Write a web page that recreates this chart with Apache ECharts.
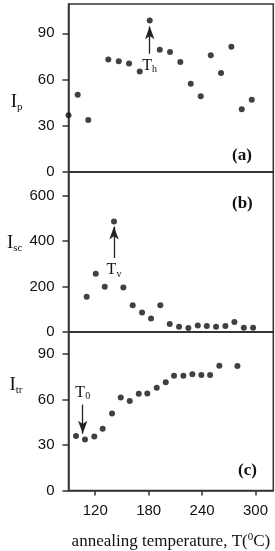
<!DOCTYPE html>
<html>
<head>
<meta charset="utf-8">
<script src="https://cdn.jsdelivr.net/npm/echarts@6/dist/echarts.min.js"></script>
<style>
  html, body { margin: 0; padding: 0; background: #fff; }
  #box { width: 275px; height: 551px; }
</style>
</head>
<body>
<div id="box"></div>
<script>
// annealing temperature (x) and intensities
const tempA = [90, 100.3, 112.2, 134.7, 146.4, 158, 170, 181.2, 192.5, 204, 215.6, 227.3, 238.5, 249.8, 261.3, 272.9, 284.6, 295.8];
const ipA = [36.8, 50.2, 33.8, 73, 71.9, 70.4, 65.2, 98.3, 79.3, 77.8, 71.3, 57.2, 49.2, 75.8, 64.3, 81.2, 40.7, 46.8];

const tempB = [110.4, 120.6, 130.7, 141.1, 151.6, 162.1, 172.6, 182.7, 193.1, 203.7, 214.2, 224.6, 235.2, 245.3, 255.7, 266.2, 276.3, 286.9, 297.3];
const iscB = [155, 256, 199, 486, 196, 117, 86, 59, 117, 35, 23, 18, 29, 26, 23, 26, 44, 19, 19];

const tempC = [98.4, 108.5, 119, 128.4, 138.9, 148.7, 158.8, 168.9, 178.5, 189.1, 199.2, 208.5, 219, 229.1, 239.2, 249, 259.4, 279.7];
const itrC = [36, 33.6, 35.6, 40.8, 50.8, 61.4, 59, 63.9, 64, 67.8, 71.5, 75.8, 75.8, 76.7, 76.3, 76.3, 82.4, 82.2];

const xTicks = [120, 180, 240, 300];
const ticksA = [0, 30, 60, 90];
const ticksB = [0, 200, 400, 600];
const ticksC = [0, 30, 60, 90];

// arrows: [x, from, to]
const arrowA = [181.2, 76.7, 94.5];
const arrowB = [141.1, 325, 463];
const arrowC = [106, 56.7, 37.5];

const frame = "#333";
const sans = "Liberation Sans";
const serif = "Liberation Serif";

let myChart = echarts.init(document.getElementById("box"));

function pair(t, v) {
  return t.map((x, i) => [x, v[i]]);
}

function yAx(idx, max, ticks, nameMain, nameSub, pad) {
  return {
    type: "value",
    gridIndex: idx,
    min: 0,
    max: max,
    splitLine: { show: false },
    axisLine: { show: true, lineStyle: { color: frame, width: 1.5 } },
    axisTick: { show: true, customValues: ticks, length: 6, lineStyle: { color: frame, width: 1.5 } },
    axisLabel: { customValues: ticks, margin: 14, color: "#111", fontFamily: sans, fontSize: 15 },
    name: "{m|" + nameMain + "}{s|" + nameSub + "}",
    nameLocation: "middle",
    nameRotate: 0,
    nameGap: 46,
    nameTextStyle: {
      padding: pad,
      rich: {
        m: { fontFamily: serif, fontSize: 19, color: "#111" },
        s: { fontFamily: serif, fontSize: 11, color: "#111", padding: [10, 0, 0, 0] },
      },
    },
  };
}

function xAx(idx, bottom) {
  let ax = {
    type: "value",
    gridIndex: idx,
    min: 90,
    max: 320,
    splitLine: { show: false },
    axisLine: { show: true, onZero: false, lineStyle: { color: frame, width: 1.5 } },
    axisTick: { show: false },
    axisLabel: { show: false },
  };
  if (bottom) {
    ax.axisTick = { show: true, customValues: xTicks, length: 5, lineStyle: { color: frame, width: 1.5 } };
    ax.axisLabel = { show: true, customValues: xTicks, margin: 13, color: "#111", fontFamily: sans, fontSize: 15 };
    ax.name = "{t|annealing temperature, T(}{sup|0}{t|C)}";
    ax.nameLocation = "middle";
    ax.nameGap = 41;
    ax.nameTextStyle = {
      rich: {
        t: { fontFamily: serif, fontSize: 17, color: "#111" },
        sup: { fontFamily: serif, fontSize: 11, color: "#111", padding: [0, 0, 9, 0] },
      },
    };
  }
  return ax;
}

function arrowLine(a, main, sub) {
  return {
    silent: true,
    symbol: "none",
    lineStyle: { color: "#222", width: 1.3, type: "solid" },
    label: {
      show: true,
      position: "start",
      distance: 3,
      formatter: "{m|" + main + "}{s|" + sub + "}",
      rich: {
        m: { fontFamily: serif, fontSize: 16, color: "#111" },
        s: { fontFamily: serif, fontSize: 10, color: "#111", padding: [8, 0, 0, 0] },
      },
    },
    data: [[
      { coord: [a[0], a[1]], symbol: "none" },
      { coord: [a[0], a[2]], symbol: "arrow", symbolSize: [7, 13] },
    ]],
  };
}

function dots(idx, data, ml) {
  return {
    type: "scatter",
    xAxisIndex: idx,
    yAxisIndex: idx,
    symbolSize: 6,
    itemStyle: { color: "#111" },
    data: data,
    markLine: ml,
  };
}

let gridBase = { left: 68.5, right: 1.7, show: true, borderColor: frame, borderWidth: 1.5 };

let option = {
  backgroundColor: "#fff",
  animation: false,
  grid: [
    Object.assign({ top: 4, height: 168 }, gridBase),
    Object.assign({ top: 172, height: 160 }, gridBase),
    Object.assign({ top: 332, height: 160 }, gridBase),
  ],
  xAxis: [xAx(0, false), xAx(1, false), xAx(2, true)],
  yAxis: [
    yAx(0, 109, ticksA, "I", "p", [28, 0, 0, 0]),
    yAx(1, 703, ticksB, "I", "sc", [0, 0, 18, 0]),
    yAx(2, 104.6, ticksC, "I", "tr", [0, 0, 52, 0]),
  ],
  series: [
    dots(0, pair(tempA, ipA), arrowLine(arrowA, "T", "h")),
    dots(1, pair(tempB, iscB), arrowLine(arrowB, "T", "v")),
    dots(2, pair(tempC, itrC), arrowLine(arrowC, "T", "0")),
  ],
  graphic: [
    { type: "text", left: 232, top: 147, style: { text: "(a)", font: "bold 17px 'Liberation Serif'", fill: "#111" } },
    { type: "text", left: 232, top: 195, style: { text: "(b)", font: "bold 17px 'Liberation Serif'", fill: "#111" } },
    { type: "text", left: 238, top: 462, style: { text: "(c)", font: "bold 17px 'Liberation Serif'", fill: "#111" } },
  ],
};

myChart.setOption(option);
</script>
</body>
</html>
